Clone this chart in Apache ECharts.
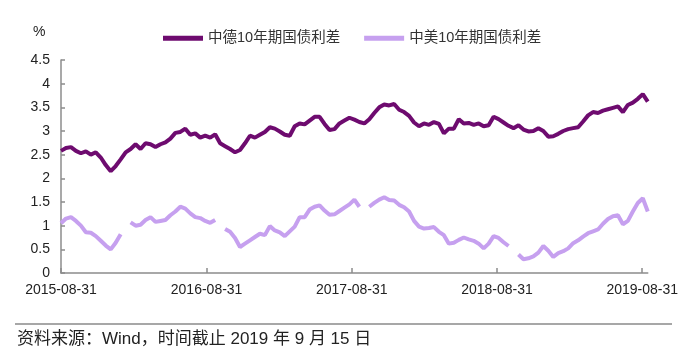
<!DOCTYPE html>
<html>
<head>
<meta charset="utf-8">
<script src="https://cdn.jsdelivr.net/npm/echarts@6/dist/echarts.min.js"></script>
<style>
html,body{margin:0;padding:0;background:#fff;}
#c{width:681px;height:359px;}
</style>
</head>
<body>
<div id="c"></div>
<script>
// sample step (days since 2015-08-31)
const stepDays = 12.5;
const tickDays = [0, 366, 731, 1096, 1461];
const tickLabels = ['2015-08-31', '2016-08-31', '2017-08-31', '2018-08-31', '2019-08-31'];
const yTicks = [0, 0.5, 1, 1.5, 2, 2.5, 3, 3.5, 4, 4.5];

// 中德10年期国债利差
const deValues = [
  2.58, 2.64, 2.66, 2.58, 2.53, 2.57, 2.50, 2.55, 2.44, 2.28,
  2.15, 2.26, 2.40, 2.55, 2.62, 2.72, 2.62, 2.74, 2.72, 2.66,
  2.72, 2.76, 2.84, 2.96, 2.98, 3.05, 2.92, 2.95, 2.86, 2.90,
  2.86, 2.93, 2.74, 2.68, 2.62, 2.55, 2.60, 2.74, 2.90, 2.86,
  2.92, 2.98, 3.08, 3.05, 2.99, 2.92, 2.90, 3.10, 3.16, 3.14,
  3.22, 3.30, 3.30, 3.15, 3.02, 3.04, 3.16, 3.22, 3.28, 3.24,
  3.19, 3.16, 3.25, 3.38, 3.50, 3.56, 3.54, 3.57, 3.45, 3.40,
  3.32, 3.18, 3.10, 3.16, 3.13, 3.19, 3.15, 2.95, 3.05, 3.05,
  3.25, 3.16, 3.17, 3.13, 3.16, 3.10, 3.12, 3.30, 3.25, 3.18,
  3.11, 3.06, 3.12, 3.03, 2.99, 3.00, 3.06, 3.00, 2.88, 2.89,
  2.94, 3.00, 3.04, 3.06, 3.08, 3.20, 3.33, 3.40, 3.38, 3.43,
  3.46, 3.49, 3.52, 3.40, 3.55, 3.60, 3.68, 3.78, 3.62
];

// 中美10年期国债利差
const usValues = [
  1.05, 1.15, 1.18, 1.10, 1.00, 0.86, 0.85, 0.78, 0.68, 0.58,
  0.50, 0.64, 0.82, null, 1.07, 1.00, 1.02, 1.12, 1.18, 1.08,
  1.10, 1.12, 1.22, 1.30, 1.40, 1.36, 1.26, 1.18, 1.16, 1.10,
  1.06, 1.12, null, 0.93, 0.87, 0.74, 0.55, 0.62, 0.69, 0.76,
  0.83, 0.80, 0.99, 0.90, 0.86, 0.78, 0.88, 0.98, 1.18, 1.18,
  1.34, 1.40, 1.43, 1.32, 1.23, 1.24, 1.31, 1.38, 1.45, 1.55,
  1.40, null, 1.40, 1.48, 1.55, 1.60, 1.54, 1.53, 1.44, 1.39,
  1.30, 1.10, 0.98, 0.94, 0.95, 0.97, 0.87, 0.80, 0.62, 0.64,
  0.70, 0.75, 0.71, 0.68, 0.62, 0.52, 0.62, 0.78, 0.74, 0.65,
  0.57, null, 0.39, 0.29, 0.31, 0.35, 0.43, 0.57, 0.47, 0.34,
  0.42, 0.46, 0.52, 0.63, 0.69, 0.77, 0.84, 0.88, 0.92, 1.04,
  1.14, 1.20, 1.22, 1.03, 1.10, 1.30, 1.48, 1.58, 1.30
];

const toPairs = arr => arr.map((v, i) => [i * stepDays, v]);
const lastDay = (deValues.length - 1) * stepDays;

const chart = echarts.init(document.getElementById('c'), null, {renderer: 'canvas'});
const font = 'Liberation Sans, Arial, sans-serif';
const cjk = 'Liberation Sans, "Noto Sans CJK SC", sans-serif';

chart.setOption({
  animation: false,
  backgroundColor: '#fff',
  grid: {left: 61, right: 29, top: 60, bottom: 86, containLabel: false},
  legend: {
    top: 26, left: 158,
    itemWidth: 40, itemHeight: 5, itemGap: 24,
    icon: 'rect',
    textStyle: {fontSize: 14.5, color: '#333', fontFamily: cjk},
    data: ['中德10年期国债利差', '中美10年期国债利差']
  },
  xAxis: {
    type: 'value',
    min: 0, max: lastDay,
    splitLine: {show: false},
    axisLine: {lineStyle: {color: '#8c8c8c', width: 1.5}},
    axisTick: {inside: true, length: 5, lineStyle: {color: '#8c8c8c', width: 1.5}, customValues: tickDays},
    axisLabel: {
      customValues: tickDays,
      margin: 10,
      fontSize: 14, color: '#222', fontFamily: font,
      formatter: v => { const k = tickDays.indexOf(v); return k >= 0 ? tickLabels[k] : ''; }
    }
  },
  yAxis: {
    type: 'value',
    min: 0, max: 4.5, interval: 0.5,
    splitLine: {show: false},
    axisLine: {show: true, lineStyle: {color: '#8c8c8c', width: 1.5}},
    axisTick: {show: true, inside: true, length: 4, lineStyle: {color: '#8c8c8c', width: 1.5}},
    axisLabel: {
      margin: 11, fontSize: 14, color: '#222', fontFamily: font,
      formatter: v => { const k = yTicks.findIndex(t => Math.abs(t - v) < 1e-6); return k >= 0 ? String(yTicks[k]) : ''; }
    }
  },
  graphic: [
    {type: 'text', left: 33, top: 25, style: {text: '%', fontSize: 14, fill: '#222', fontFamily: font}},
    {type: 'line', shape: {x1: 15, y1: 324, x2: 672, y2: 324}, style: {stroke: '#8a8a8a', lineWidth: 1.5}},
    {type: 'text', left: 17, top: 331, style: {text: '资料来源：Wind，时间截止 2019 年 9 月 15 日', fontSize: 17, fill: '#222', fontFamily: cjk}}
  ],
  series: [
    {
      name: '中德10年期国债利差', type: 'line', showSymbol: false, symbol: 'none',
      data: toPairs(deValues), connectNulls: false,
      lineStyle: {color: '#6e0b6f', width: 4}, itemStyle: {color: '#6e0b6f'}
    },
    {
      name: '中美10年期国债利差', type: 'line', showSymbol: false, symbol: 'none',
      data: toPairs(usValues), connectNulls: false,
      lineStyle: {color: '#c6a0ef', width: 4}, itemStyle: {color: '#c6a0ef'}
    }
  ]
});
</script>
</body>
</html>
